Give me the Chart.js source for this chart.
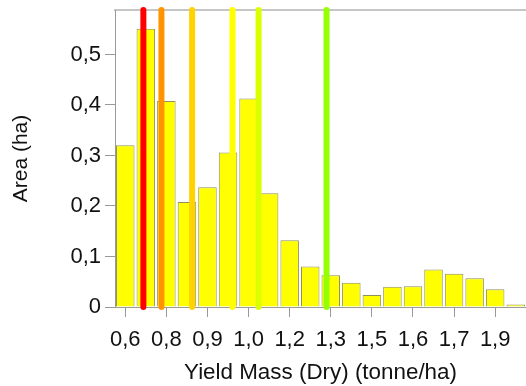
<!DOCTYPE html>
<html>
<head>
<meta charset="utf-8">
<script src="https://cdn.jsdelivr.net/npm/chart.js@4/dist/chart.umd.min.js"></script>
<style>
  html, body { margin: 0; padding: 0; background: #fff; }
  #wrap { width: 526px; height: 386px; position: relative; }
</style>
</head>
<body>
<div id="wrap"><canvas id="histo"></canvas></div>
<script>
// --- dati ---
const binLabels = ['0,6', '', '0,8', '', '0,9', '', '1,0', '', '1,2', '', '1,3', '', '1,5', '', '1,6', '', '1,7', '', '1,9', ''];
const areaValues = [0.320, 0.551, 0.408, 0.208, 0.237, 0.306, 0.413, 0.225, 0.132, 0.080,
                    0.063, 0.048, 0.024, 0.040, 0.041, 0.074, 0.066, 0.057, 0.035, 0.005];
const yTicks = [0, 0.1, 0.2, 0.3, 0.4, 0.5];
const yMax = 0.588;

// asse delle rese (tonne/ha) per le soglie colorate
const binStart = 0.584;   // bordo sinistro della prima classe
const binWidth = 0.0717;
const breakValues = [0.683, 0.746, 0.853, 0.994, 1.085, 1.322];
const breakColors = ['#ff0000', '#ff9400', '#ffd200', '#ffff00', '#dcff00', '#96ff00'];

const FONT = 'Liberation Sans, Arial, sans-serif';
const AXIS_GREY = '#9a9a9a';

// linee verticali: una per ogni soglia
const breakDatasets = breakValues.map((v, i) => ({
  type: 'line',
  data: [{ x: v, y: 0 }, { x: v, y: yMax }],
  xAxisID: 'xv',
  yAxisID: 'y',
  borderColor: breakColors[i],
  borderWidth: 6,
  borderCapStyle: 'round',
  pointRadius: 0,
  clip: false,
  order: 0
}));

new Chart(document.getElementById('histo'), {
  type: 'bar',
  data: {
    labels: binLabels,
    datasets: [
      ...breakDatasets,
      {
        type: 'bar',
        data: areaValues,
        xAxisID: 'x',
        yAxisID: 'y',
        backgroundColor: '#ffff00',
        borderColor: '#8f8f5c',
        borderWidth: 1,
        grouped: false,
        categoryPercentage: 1,
        barPercentage: 0.9,
        order: 1
      }
    ]
  },
  options: {
    responsive: true,
    maintainAspectRatio: false,
    animation: false,
    layout: { padding: 0 },
    plugins: { legend: { display: false }, tooltip: { enabled: false } },
    scales: {
      x: {
        type: 'category',
        position: 'bottom',
        grid: {
          offset: false,
          drawOnChartArea: false,
          tickLength: 10,
          tickColor: c => (c.index % 2 === 0 ? AXIS_GREY : 'rgba(0,0,0,0)')
        },
        border: { color: AXIS_GREY },
        ticks: {
          autoSkip: false,
          maxRotation: 0,
          padding: 10,
          color: '#111',
          font: { family: FONT, size: 22 }
        },
        title: {
          display: true,
          text: 'Yield Mass (Dry) (tonne/ha)',
          color: '#111',
          font: { family: FONT, size: 22.4 },
          padding: { top: 0, bottom: 0 }
        },
        afterFit: s => { s.height = 79; s.paddingLeft = 0; s.paddingRight = 0; }
      },
      // asse lineare invisibile in alto: posiziona le soglie e disegna il bordo superiore
      xv: {
        type: 'linear',
        position: 'top',
        offset: false,
        min: binStart,
        max: binStart + binWidth * areaValues.length,
        grid: { display: false },
        ticks: { display: false },
        border: { color: '#c6c6c6', width: 2 },
        afterFit: s => { s.height = 10; s.paddingLeft = 0; s.paddingRight = 0; }
      },
      y: {
        type: 'linear',
        position: 'left',
        min: 0,
        max: yMax,
        afterBuildTicks: s => { s.ticks = yTicks.map(v => ({ value: v })); },
        ticks: {
          padding: 4,
          color: '#111',
          font: { family: FONT, size: 22 },
          callback: v => (v === 0 ? '0' : v.toFixed(1).replace('.', ','))
        },
        grid: { drawOnChartArea: false, tickLength: 10, color: AXIS_GREY },
        border: { color: AXIS_GREY },
        title: {
          display: true,
          text: 'Area (ha)',
          color: '#111',
          font: { family: FONT, size: 21 },
          padding: { top: 9, bottom: 0 }
        },
        afterFit: s => { s.width = 115; s.paddingTop = 0; s.paddingBottom = 0; }
      }
    }
  }
});
</script>
</body>
</html>
